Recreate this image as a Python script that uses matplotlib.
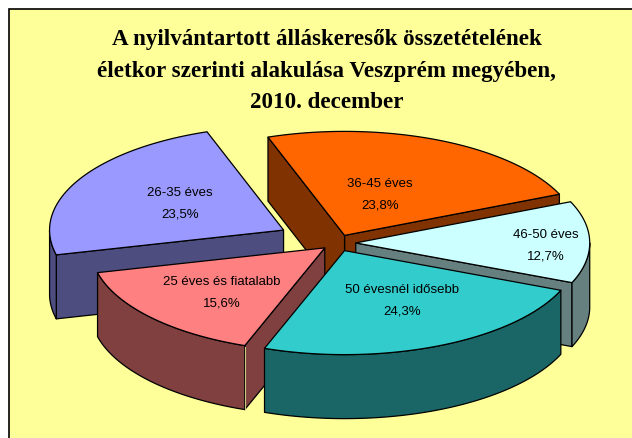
import matplotlib
matplotlib.use('Agg')
import matplotlib.pyplot as plt
from matplotlib.patches import Polygon, Rectangle
import numpy as np

title_lines = ['A nyilvántartott álláskeresők összetételének',
               'életkor szerinti alakulása Veszprém megyében,',
               '2010. december']

categories = ['25 éves és fiatalabb', '26-35 éves', '36-45 éves', '46-50 éves', '50 évesnél idősebb']
shares = [15.6, 23.5, 23.8, 12.7, 24.3]
share_labels = ['15,6%', '23,5%', '23,8%', '12,7%', '24,3%']

top_colors = ['#FF8080', '#9999FF', '#FF6600', '#CCFFFF', '#33CCCC']
side_colors = ['#804040', '#4D4D80', '#803300', '#668080', '#1A6666']
explode = [0.07, 0.26, 0.08, 0.08, 0.08]
# label centre relative to the slice tip, in pie radii
label_dx = [-0.439, -0.442, 0.152, 0.811, 0.244]
label_dy = [-0.41, 0.277, 0.414, -0.01, -0.457]
draw_order = [1, 2, 3, 0, 4]

# pie geometry in pixels, the axes below spans the figure 1:1
cx, cy = 337, 244
rx, ry = 234, 104
depth = 64
start_angle = -110


def to_xy(angles, x0, y0):
    a = np.radians(angles)
    return x0 + rx * np.cos(a), y0 - ry * np.sin(a)


def face(ax, xs, ys, color):
    pts = np.column_stack([np.r_[xs, xs[::-1]], np.r_[ys, ys[::-1] + depth]])
    ax.add_patch(Polygon(pts, closed=True, fc=color, ec='black', lw=0.9, joinstyle='round'))


fig = plt.figure(figsize=(6.32, 4.39), dpi=100)
fig.patch.set_facecolor('white')
ax = fig.add_axes([0, 0, 1, 1])
ax.set_xlim(0, 632)
ax.set_ylim(439, 0)
ax.axis('off')
ax.add_patch(Rectangle((9, 10), 640, 440, fc='#FFFF99', ec='black', lw=1.2))

total = sum(shares)
sweeps = [s / total * 360 for s in shares]
starts = start_angle - np.r_[0, np.cumsum(sweeps)[:-1]]

for i in draw_order:
    t1 = starts[i]
    t2 = t1 - sweeps[i]
    mid = (t1 + t2) / 2
    x0 = cx + explode[i] * rx * np.cos(np.radians(mid))
    y0 = cy - explode[i] * ry * np.sin(np.radians(mid))
    side = side_colors[i]

    # cut faces, only when they turn towards the viewer
    if np.sin(np.radians(t2 - 90)) < 0:
        ex, ey = to_xy(np.array([t2]), x0, y0)
        face(ax, np.r_[x0, ex], np.r_[y0, ey], side)
    if np.sin(np.radians(t1 + 90)) < 0:
        ex, ey = to_xy(np.array([t1]), x0, y0)
        face(ax, np.r_[x0, ex], np.r_[y0, ey], side)

    # outer wall is just the part of the rim on the front half
    arc = np.linspace(t1, t2, 240)
    front = arc[np.sin(np.radians(arc)) <= 0]
    if len(front) > 1:
        wx, wy = to_xy(front, x0, y0)
        face(ax, wx, wy, side)

    # pale sliver where the pink wall meets its cut face
    if i == 0:
        ex, ey = to_xy(np.array([t1]), x0, y0)
        ax.plot([ex[0], ex[0]], [ey[0] + 1, ey[0] + depth - 1], color='#C8C880', lw=0.8)

    tx, ty = to_xy(arc, x0, y0)
    pts = np.column_stack([np.r_[x0, tx], np.r_[y0, ty]])
    ax.add_patch(Polygon(pts, closed=True, fc=top_colors[i], ec='black', lw=0.9))

    lx = x0 + label_dx[i] * rx
    ly = y0 - label_dy[i] * ry
    ax.text(lx, ly - 9.5, categories[i], family='Liberation Sans', fontsize=9.5,
            ha='center', va='center', color='black')
    ax.text(lx, ly + 12, share_labels[i], family='Liberation Sans', fontsize=9.5,
            ha='center', va='center', color='black')

for line, y in zip(title_lines, [40, 71, 103]):
    ax.text(326.5, y, line, family='Liberation Serif', fontweight='bold', fontsize=16.6,
            ha='center', va='center', color='black')

fig.savefig('out.png', dpi=100, facecolor=fig.get_facecolor())
